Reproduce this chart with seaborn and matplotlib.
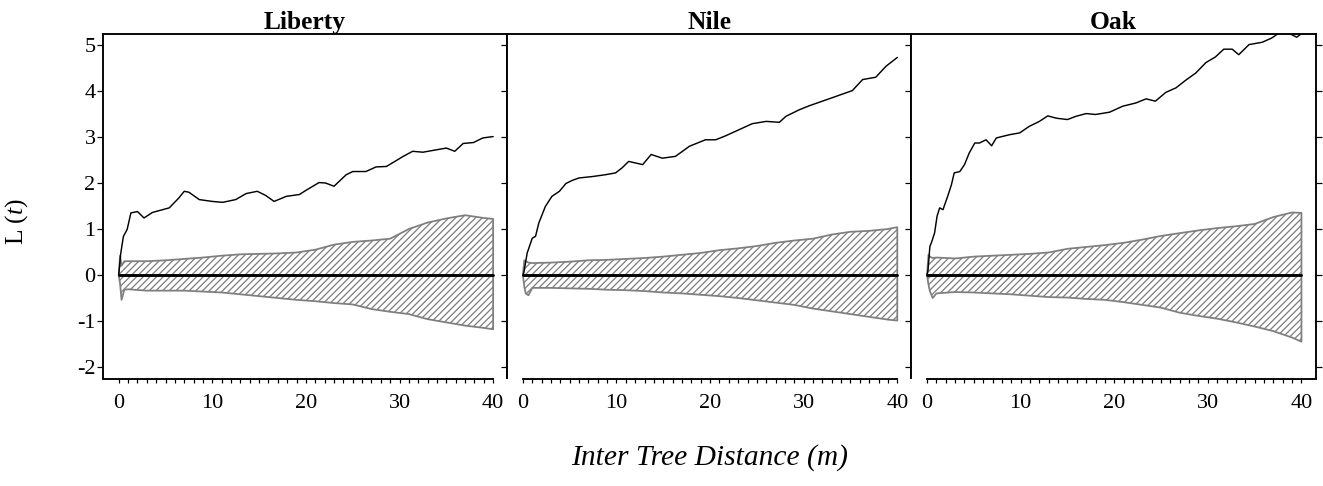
import matplotlib
matplotlib.use("Agg")
import matplotlib.pyplot as plt
from matplotlib.ticker import FixedLocator
import seaborn as sns
import numpy as np

# ---------------- data ----------------
panels = ["Liberty", "Nile", "Oak"]

# observed L(t)
lib_x = [0, 0.2, 0.5, 0.9, 1.3, 2.0, 2.7, 3.6, 5.4, 6.4, 7.0, 7.5, 8.6, 10.0, 11.1, 12.5,
         13.6, 14.8, 15.7, 16.6, 17.9, 19.3, 20.0, 21.4, 22.1, 23.0, 24.3, 25.0, 26.4, 27.5,
         28.6, 30.4, 31.4, 32.5, 33.6, 35.0, 35.9, 36.8, 37.9, 38.9, 40.0]
lib_y = [0, 0.45, 0.84, 0.99, 1.35, 1.38, 1.24, 1.36, 1.46, 1.67, 1.82, 1.80, 1.64, 1.60, 1.58, 1.64,
         1.77, 1.82, 1.73, 1.60, 1.71, 1.75, 1.84, 2.01, 2.00, 1.93, 2.18, 2.25, 2.25, 2.35,
         2.36, 2.58, 2.69, 2.67, 2.71, 2.76, 2.69, 2.86, 2.88, 2.98, 3.01]

nile_x = [0, 0.1, 0.46, 1.0, 1.35, 1.7, 2.4, 3.1, 3.9, 4.6, 5.3, 6.0, 7.4, 8.8, 9.9, 10.6,
          11.3, 12.8, 13.7, 14.9, 16.3, 17.8, 19.5, 20.6, 21.7, 23.1, 24.5, 26.0, 27.4, 28.1,
          29.5, 30.6, 32.0, 33.4, 35.2, 36.3, 37.7, 38.8, 40.0]
nile_y = [0, 0.05, 0.48, 0.80, 0.84, 1.13, 1.49, 1.71, 1.82, 1.99, 2.06, 2.11, 2.14, 2.18, 2.22, 2.33,
          2.47, 2.40, 2.62, 2.54, 2.58, 2.80, 2.94, 2.94, 3.03, 3.16, 3.29, 3.34, 3.32, 3.45,
          3.59, 3.68, 3.78, 3.88, 4.01, 4.25, 4.30, 4.54, 4.73]

oak_x = [0, 0.1, 0.3, 0.46, 0.8, 1.07, 1.35, 1.7, 2.2, 2.6, 2.9, 3.5, 4.0, 4.5, 5.1, 5.6, 6.3,
         6.9, 7.4, 8.8, 9.9, 10.9, 12.0, 12.9, 13.8, 15.0, 15.9, 17.0, 18.0, 19.5, 20.9, 22.3,
         23.4, 24.4, 25.5, 26.6, 27.6, 28.7, 29.8, 30.8, 31.7, 32.6, 33.3, 34.4, 35.8, 36.8,
         37.6, 38.3, 39.0, 39.5, 40.0]
oak_y = [0, 0.1, 0.62, 0.70, 0.91, 1.28, 1.46, 1.42, 1.71, 1.96, 2.22, 2.25, 2.40, 2.65, 2.87, 2.87, 2.94,
         2.81, 2.98, 3.05, 3.09, 3.23, 3.34, 3.46, 3.41, 3.38, 3.45, 3.51, 3.49, 3.54, 3.67, 3.74,
         3.83, 3.78, 3.97, 4.07, 4.23, 4.39, 4.62, 4.74, 4.91, 4.91, 4.79, 5.01, 5.06, 5.15,
         5.26, 5.30, 5.22, 5.17, 5.25]

# simulation envelopes
env_x = [0, 0.15, 0.3, 0.6, 1, 3, 5, 7, 9, 11, 13, 15, 17, 19, 21, 23, 25, 27, 29, 31, 33, 35, 37, 39, 40]
lib_hi = [0, 0.42, 0.20, 0.30, 0.30, 0.30, 0.32, 0.35, 0.38, 0.42, 0.45, 0.46, 0.47, 0.49, 0.55,
          0.66, 0.72, 0.75, 0.79, 1.00, 1.14, 1.23, 1.30, 1.24, 1.22]
lib_lo = [0, -0.20, -0.54, -0.32, -0.31, -0.34, -0.34, -0.34, -0.36, -0.38, -0.42, -0.46, -0.50,
          -0.54, -0.57, -0.61, -0.64, -0.74, -0.80, -0.85, -0.96, -1.03, -1.10, -1.15, -1.18]
nile_hi = [0, 0.32, 0.30, 0.27, 0.26, 0.27, 0.29, 0.32, 0.33, 0.35, 0.37, 0.40, 0.44, 0.48, 0.54,
           0.58, 0.63, 0.70, 0.75, 0.79, 0.88, 0.94, 0.96, 1.00, 1.04]
nile_lo = [0, -0.25, -0.40, -0.44, -0.28, -0.28, -0.29, -0.30, -0.32, -0.33, -0.35, -0.38, -0.40,
           -0.43, -0.46, -0.50, -0.55, -0.60, -0.65, -0.73, -0.79, -0.85, -0.91, -0.97, -0.99]
oak_hi = [0, 0.44, 0.40, 0.37, 0.38, 0.36, 0.40, 0.42, 0.44, 0.46, 0.49, 0.57, 0.61, 0.65, 0.70,
          0.77, 0.85, 0.91, 0.97, 1.02, 1.06, 1.11, 1.26, 1.36, 1.35]
oak_lo = [0, -0.20, -0.35, -0.50, -0.40, -0.37, -0.38, -0.40, -0.42, -0.45, -0.48, -0.49, -0.52,
          -0.54, -0.59, -0.65, -0.71, -0.82, -0.89, -0.95, -1.03, -1.12, -1.22, -1.36, -1.45]

x_ticks = [0, 10, 20, 30, 40]
y_ticks = [-2, -1, 0, 1, 2, 3, 4, 5]

# ---------------- style ----------------
sns.set_style("ticks")
plt.rcParams["font.family"] = ["Liberation Serif", "DejaVu Serif"]
plt.rcParams["mathtext.fontset"] = "custom"
plt.rcParams["mathtext.rm"] = "Liberation Serif"
plt.rcParams["mathtext.it"] = "Liberation Serif:italic"
plt.rcParams["hatch.color"] = "#666666"
plt.rcParams["hatch.linewidth"] = 1.15
plt.rcParams["text.color"] = "black"
plt.rcParams["xtick.labelcolor"] = "black"
plt.rcParams["ytick.labelcolor"] = "black"
plt.rcParams["xtick.color"] = "black"
plt.rcParams["ytick.color"] = "black"

DPI = 80
W, H = 1323, 486
fig = plt.figure(figsize=(W / DPI, H / DPI), dpi=DPI)

obs = [(lib_x, lib_y), (nile_x, nile_y), (oak_x, oak_y)]
env = [(lib_hi, lib_lo), (nile_hi, nile_lo), (oak_hi, oak_lo)]

left_px, right_px = 103, 1315.5
top_px, bot_px = 34, 378.5
pw = (right_px - left_px) / 3
XLIM = (-1.68, 41.5)
YLIM = (-2.25, 5.24)

for i, name in enumerate(panels):
    ax = fig.add_axes([(left_px + i * pw) / W, 1 - bot_px / H, pw / W, (bot_px - top_px) / H])
    hi, lo = env[i]
    ax.fill_between(env_x, lo, hi, facecolor="white", edgecolor="#7f7f7f",
                    hatch="////", linewidth=1.6, zorder=2)
    sns.lineplot(x=[0, 40], y=[0, 0], ax=ax, color="black", linewidth=2.6, zorder=3)
    sns.lineplot(x=obs[i][0], y=obs[i][1], ax=ax, color="black", linewidth=1.3, zorder=4)

    ax.set_xlim(*XLIM)
    ax.set_ylim(*YLIM)
    ax.set_xticks(x_ticks)
    ax.xaxis.set_minor_locator(FixedLocator(list(range(0, 41))))
    ax.set_yticks(y_ticks)
    ax.set_yticklabels([str(v) for v in y_ticks])
    ax.tick_params(axis="x", which="both", direction="out", length=3.8, width=1.1,
                   pad=10, labelsize=20)
    ax.tick_params(axis="y", which="major", direction="out", length=5.2, width=1.1,
                   left=True, right=True, labelleft=(i == 0), labelright=False,
                   pad=1.5, labelsize=20)
    for s in ax.spines.values():
        s.set_linewidth(1.7)
        s.set_color("black")
        s.set_visible(True)
    if i == 0:
        ax.spines["bottom"].set_bounds(XLIM[0], 40)
    elif i == 1:
        ax.spines["bottom"].set_bounds(0, 40)
    else:
        ax.spines["bottom"].set_bounds(0, XLIM[1])
    ax.set_xlabel("")
    ax.set_ylabel("")
    ax.set_title(name, fontweight="bold", fontsize=23, pad=3)

fig.text(17 / W, 1 - 222 / H, r"L ($\mathit{t}$)", rotation=90, fontsize=23,
         ha="center", va="center")
fig.text(710 / W, 1 - 458 / H, "Inter Tree Distance (m)", style="italic", fontsize=26.5,
         ha="center", va="center")

fig.savefig("out.png", dpi=DPI)
